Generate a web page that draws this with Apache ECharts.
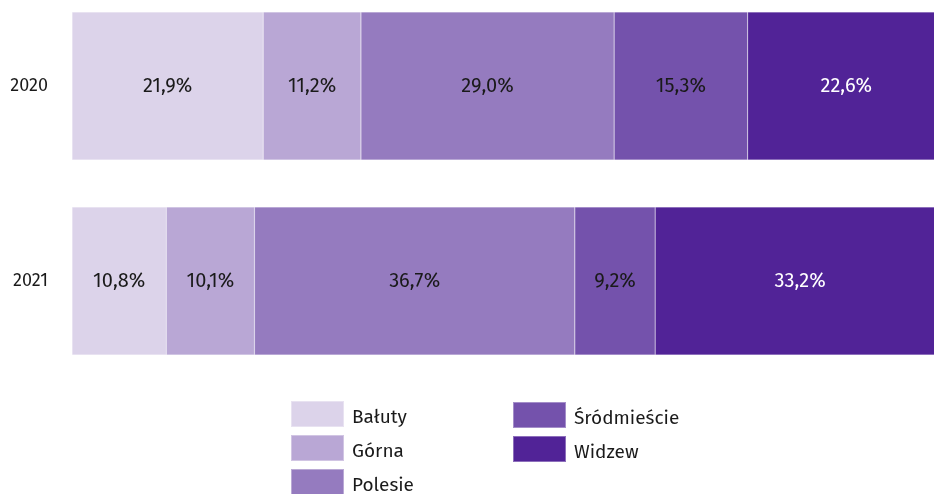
<!DOCTYPE html>
<html>
<head>
<meta charset="utf-8">
<script src="https://cdn.jsdelivr.net/npm/echarts@6/dist/echarts.min.js"></script>
<style>
  html, body { margin: 0; padding: 0; background: #fff; }
  #chart { width: 934px; height: 494px; }
</style>
</head>
<body>
<div id="chart"></div>
<script>
var years = ["2020", "2021"];
var districts = ["Bałuty", "Górna", "Polesie", "Śródmieście", "Widzew"];
var balutyVals = [21.9, 10.8];
var gornaVals = [11.2, 10.1];
var polesieVals = [29.0, 36.7];
var srodmiescieVals = [15.3, 9.2];
var widzewVals = [22.6, 33.2];
var colors = ["#dcd3ea", "#b9a7d5", "#957bbf", "#7452ac", "#512397"];
var labelColors = ["#1a1a1a", "#1a1a1a", "#1a1a1a", "#1a1a1a", "#ffffff"];

var allVals = [balutyVals, gornaVals, polesieVals, srodmiescieVals, widzewVals];
var font = "'Fira Sans', 'Open Sans', 'Noto Sans', sans-serif";

var chart = echarts.init(document.getElementById("chart"));

// the bars run past the right edge of the picture, as in the original
var series = districts.map(function (name, i) {
  return {
    name: name,
    type: "bar",
    stack: "total",
    barWidth: 148,
    data: allVals[i],
    itemStyle: {
      color: colors[i],
      borderColor: "rgba(255,255,255,0.35)",
      borderWidth: 0.5
    },
    label: {
      show: true,
      position: "inside",
      color: labelColors[i],
      fontFamily: font,
      fontSize: 20,
      formatter: function (p) {
        return p.value.toFixed(1).replace(".", ",") + "%";
      }
    },
    emphasis: { disabled: true }
  };
});

var legendBase = {
  orient: "vertical",
  height: 110,
  itemWidth: 53,
  itemHeight: 26,
  itemGap: 6,
  icon: "rect",
  selectedMode: false,
  formatter: "{t|{name}}",
  textStyle: {
    rich: {
      t: {
        color: "#1a1a1a",
        fontFamily: font,
        fontSize: 19,
        lineHeight: 20,
        padding: [8, 0, 0, 3]
      }
    }
  }
};

var option = {
  backgroundColor: "#fff",
  animation: false,
  grid: {
    left: 72,
    width: 873,
    top: 86,
    height: 195,
    outerBoundsMode: "none"
  },
  xAxis: {
    type: "value",
    min: 0,
    max: 100,
    show: false
  },
  yAxis: {
    type: "category",
    inverse: true,
    boundaryGap: false,
    data: years,
    axisLine: { show: false },
    axisTick: { show: false },
    splitLine: { show: false },
    axisLabel: {
      color: "#1a1a1a",
      fontFamily: font,
      fontSize: 18,
      margin: 24
    }
  },
  legend: [
    Object.assign({}, legendBase, { data: districts.slice(0, 3), left: 285, top: 395 }),
    Object.assign({}, legendBase, { data: districts.slice(3), left: 507, top: 396 })
  ],
  series: series
};

chart.setOption(option);
</script>
</body>
</html>
